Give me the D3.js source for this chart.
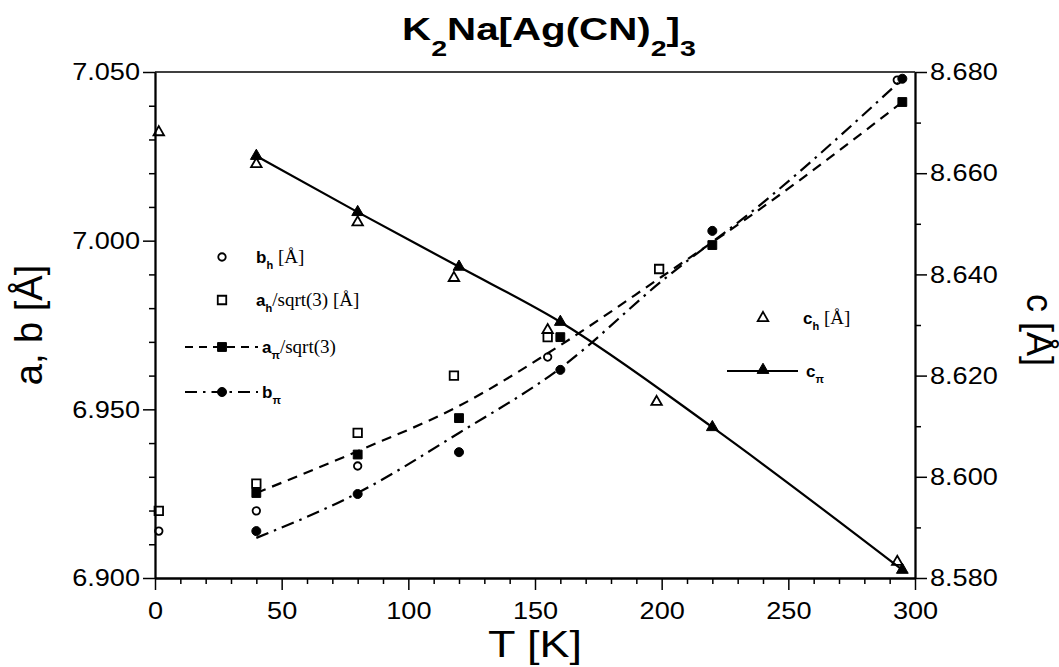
<!DOCTYPE html>
<html><head><meta charset="utf-8">
<script src="https://cdn.jsdelivr.net/npm/d3@7"></script>
<style>body{margin:0;background:#fff} svg{display:block}</style>
</head><body><svg id="c" width="1059" height="667"></svg>
<script>
// ---- data ----
const T_bh  = [1.5, 40, 80, 155, 293];
const bh    = [6.9139, 6.9199, 6.9332, 6.9655, 7.0476];
const T_ah  = [1.5, 40, 80, 118, 155, 199];
const ah    = [6.9199, 6.9280, 6.9430, 6.9600, 6.9714, 6.9916];
const T_api = [40, 80, 120, 160, 220, 295];
const api   = [6.9252, 6.9366, 6.9474, 6.9714, 6.9987, 7.0411];
const T_bpi = [40, 80, 120, 160, 220, 295];
const bpi   = [6.9139, 6.9249, 6.9373, 6.9617, 7.0029, 7.0480];
const T_ch  = [1.5, 40, 80, 118, 155, 198, 293];
const ch    = [8.6681, 8.6618, 8.6503, 8.6393, 8.6290, 8.6148, 8.5832];
const T_cpi = [40, 80, 120, 160, 220, 295];
const cpi   = [8.6634, 8.6523, 8.6415, 8.6306, 8.6098, 8.5816];
// fitted curves drawn in the figure
const T_fit  = [40, 80, 120, 160, 200, 240, 295];
const apiFit = [6.9252, 6.9376, 6.9510, 6.9690, 6.9893, 7.0100, 7.0411];
const bpiFit = [6.9119, 6.9252, 6.9430, 6.9622, 6.9880, 7.0113, 7.0479];
// ticks
const xMajor = [0, 50, 100, 150, 200, 250, 300];
const xMinor = [10,20,30,40,60,70,80,90,110,120,130,140,160,170,180,190,210,220,230,240,260,270,280,290];
const yLMajor = [6.900, 6.950, 7.000, 7.050];
const yLMinor = [6.91,6.92,6.93,6.94,6.96,6.97,6.98,6.99,7.01,7.02,7.03,7.04];
const yRMajor = [8.580, 8.600, 8.620, 8.640, 8.660, 8.680];
const yRMinor = [8.59, 8.61, 8.63, 8.65, 8.67];

const x0=155, x1=915, yT=72, yB=578;
const x  = d3.scaleLinear().domain([0,300]).range([x0,x1]);
const yL = d3.scaleLinear().domain([6.9,7.05]).range([yB,yT]);
const yR = d3.scaleLinear().domain([8.58,8.68]).range([yB,yT]);
const svg = d3.select('#c');
const SANS = '"Liberation Sans", Arial, Helvetica, sans-serif';
const SERIF = '"Liberation Serif", "Times New Roman", serif';
const SX = 1.13;

function styleAxis(g, size){
  g.attr('font-family', SANS).attr('font-size', size);
  g.select('.domain').attr('stroke-width', 1.8);
  g.selectAll('.tick line').attr('stroke-width', 1.5);
}
function stretchLabels(g){
  g.selectAll('.tick text').each(function(){
    const t = d3.select(this);
    const xv = +t.attr('x') || 0;
    t.attr('x', xv/SX).attr('transform', `scale(${SX},1)`).attr('fill','#000');
  });
}
// bottom axis
const gxm = svg.append('g').attr('transform',`translate(0,${yB})`)
  .call(d3.axisBottom(x).tickValues(xMinor).tickSize(6).tickSizeOuter(0).tickFormat(''));
styleAxis(gxm, 24);
const gx = svg.append('g').attr('transform',`translate(0,${yB})`)
  .call(d3.axisBottom(x).tickValues(xMajor).tickSize(12).tickSizeOuter(0).tickPadding(12).tickFormat(d3.format('d')));
styleAxis(gx, 24); stretchLabels(gx);
// left axis
const gym = svg.append('g').attr('transform',`translate(${x0},0)`)
  .call(d3.axisLeft(yL).tickValues(yLMinor).tickSize(6).tickSizeOuter(0).tickFormat(''));
styleAxis(gym, 24);
const gy = svg.append('g').attr('transform',`translate(${x0},0)`)
  .call(d3.axisLeft(yL).tickValues(yLMajor).tickSize(12).tickSizeOuter(0).tickPadding(3).tickFormat(d3.format('.3f')));
styleAxis(gy, 24); stretchLabels(gy);
// right axis
const grm = svg.append('g').attr('transform',`translate(${x1},0)`)
  .call(d3.axisRight(yR).tickValues(yRMinor).tickSize(6).tickSizeOuter(0).tickFormat(''));
styleAxis(grm, 24);
const gr = svg.append('g').attr('transform',`translate(${x1},0)`)
  .call(d3.axisRight(yR).tickValues(yRMajor).tickSize(12).tickSizeOuter(0).tickPadding(3).tickFormat(d3.format('.3f')));
styleAxis(gr, 24); stretchLabels(gr);
// top frame line
svg.append('line').attr('x1',x0).attr('x2',x1).attr('y1',yT).attr('y2',yT).attr('stroke','#000').attr('stroke-width',1.3);

// lines
const lineL = (ts, vs, curve) => d3.line().x(i=>x(ts[i])).y(i=>yL(vs[i])).curve(curve)(d3.range(ts.length));
const lineR = (ts, vs, curve) => d3.line().x(i=>x(ts[i])).y(i=>yR(vs[i])).curve(curve)(d3.range(ts.length));
const DASH = '10,7', DASHDOT = '13,6,2.5,6';
svg.append('path').attr('d', lineL(T_fit, apiFit, d3.curveMonotoneX)).attr('fill','none').attr('stroke','#000').attr('stroke-width',2.2).attr('stroke-dasharray',DASH);
svg.append('path').attr('d', lineL(T_fit, bpiFit, d3.curveMonotoneX)).attr('fill','none').attr('stroke','#000').attr('stroke-width',2.2).attr('stroke-dasharray',DASHDOT);
svg.append('path').attr('d', lineR(T_cpi, cpi, d3.curveMonotoneX)).attr('fill','none').attr('stroke','#000').attr('stroke-width',2.2);

// markers
const sym = {
  circO: d3.symbol().type(d3.symbolCircle).size(44)(),
  sqO:   d3.symbol().type(d3.symbolSquare).size(72)(),
  sqF:   d3.symbol().type(d3.symbolSquare).size(78)(),
  circF: d3.symbol().type(d3.symbolCircle).size(64)(),
  triO:  d3.symbol().type(d3.symbolTriangle).size(48)(),
  triF:  d3.symbol().type(d3.symbolTriangle).size(60)()
};
function marks(ts, vs, scale, path, filled){
  svg.append('g').selectAll('path').data(d3.range(ts.length)).join('path')
    .attr('transform', i=>`translate(${x(ts[i])},${scale(vs[i])})`)
    .attr('d', path)
    .attr('fill', filled ? '#000' : 'none')
    .attr('stroke', '#000').attr('stroke-width', filled ? 1 : 1.8);
}
marks(T_ch, ch, yR, sym.triO, false);
marks(T_cpi, cpi, yR, sym.triF, true);
marks(T_ah, ah, yL, sym.sqO, false);
marks(T_api, api, yL, sym.sqF, true);
marks(T_bh, bh, yL, sym.circO, false);
marks(T_bpi, bpi, yL, sym.circF, true);

// legend
function legendText(xp, yp, letter, sub, rest){
  const t = svg.append('text').attr('x', xp).attr('y', yp).attr('font-family', SERIF).attr('font-size', 19).attr('fill','#000');
  t.append('tspan').attr('font-family', SANS).attr('font-weight','bold').attr('font-size',17).text(letter);
  t.append('tspan').attr('font-family', SANS).attr('font-weight','bold').attr('font-size',11).attr('dy',6).text(sub);
  if (rest) t.append('tspan').attr('dy',-6).text(rest);
}
function legendSym(xp, yp, path, filled){
  svg.append('path').attr('transform',`translate(${xp},${yp})`).attr('d',path)
    .attr('fill', filled ? '#000' : 'none').attr('stroke','#000').attr('stroke-width', filled ? 1 : 1.8);
}
function legendLine(xa, xb, yp, dash){
  const l = svg.append('line').attr('x1',xa).attr('x2',xb).attr('y1',yp).attr('y2',yp).attr('stroke','#000').attr('stroke-width',2);
  if (dash) l.attr('stroke-dasharray', dash);
}
legendSym(222, 257, sym.circO, false);
legendText(256, 263, 'b', 'h', ' [Å]');
legendSym(222, 300, sym.sqO, false);
legendText(256, 306, 'a', 'h', '/sqrt(3) [Å]');
legendLine(185, 258, 347, '8,6');
legendSym(222, 347, sym.sqF, true);
legendText(262, 353, 'a', 'π', '/sqrt(3)');
legendLine(185, 258, 392, '12,6,2.5,6');
legendSym(222, 392, sym.circF, true);
legendText(262, 398, 'b', 'π', '');
legendSym(763, 318, sym.triO, false);
legendText(803, 324, 'c', 'h', ' [Å]');
legendLine(727, 798, 371, null);
legendSym(763, 370, sym.triF, true);
legendText(806, 377, 'c', 'π', '');

// title
const tg = svg.append('g').attr('transform','translate(549,40) scale(1.3,1)');
const tt = tg.append('text').attr('text-anchor','middle').attr('font-family',SANS).attr('font-weight','bold').attr('font-size',31).attr('fill','#000');
[['K',0],['2',1],['Na[Ag(CN)',-1],['2',1],[']',-1],['3',1]].forEach(([s,sub])=>{
  const ts = tt.append('tspan').text(s);
  if (sub===1) ts.attr('font-size',22).attr('dy',16);
  if (sub===-1) ts.attr('dy',-16);
});
// axis titles
svg.append('g').attr('transform','translate(535,657) scale(1.25,1)')
  .append('text').attr('text-anchor','middle').attr('font-family',SANS).attr('font-size',36).attr('fill','#000').text('T [K]');
svg.append('text').attr('transform','translate(42,325) rotate(-90)').attr('text-anchor','middle')
  .attr('font-family',SANS).attr('font-size',38).attr('fill','#000').text('a, b [Å]');
svg.append('text').attr('transform','translate(1027,330) rotate(90)').attr('text-anchor','middle')
  .attr('font-family',SANS).attr('font-size',36).attr('fill','#000').text('c [Å]');
</script></body></html>
